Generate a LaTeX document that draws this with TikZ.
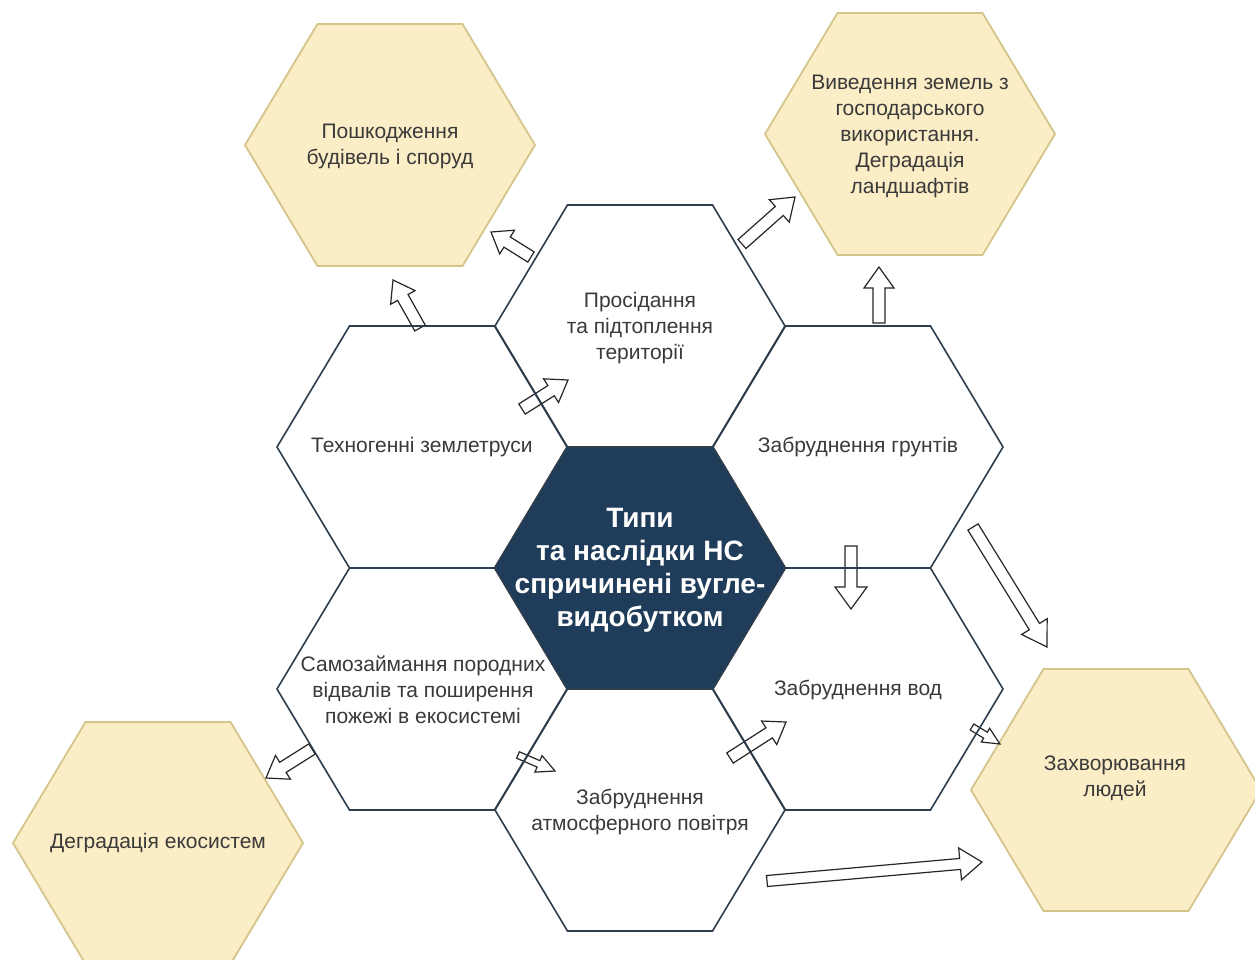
\documentclass[tikz,border=0pt]{standalone}
\usepackage{fontspec}
\setmainfont{Liberation Sans}
\usetikzlibrary{calc}
\definecolor{navy}{HTML}{1F3D5A}
\definecolor{hexline}{HTML}{2E3D4C}
\definecolor{yfill}{HTML}{FBEDC6}
\definecolor{ybord}{HTML}{D5C58A}
\definecolor{txtgray}{HTML}{3A3A3A}
\newcommand\hexpath[3][]{%
  \path[#1] ({#2-145},{#3}) -- ({#2-72.5},{#3-121}) -- ({#2+72.5},{#3-121}) -- ({#2+145},{#3}) -- ({#2+72.5},{#3+121}) -- ({#2-72.5},{#3+121}) -- cycle;}
\newcommand\blockarr[5]{%
  \coordinate (bk) at ($(#2)!#5*0.5pt!(#1)$);
  \draw[barrow] ($(#1)!#3*0.5pt!90:(#2)$) -- ($(bk)!#3*0.5pt!90:(#2)$) -- ($(bk)!#4*0.5pt!90:(#2)$) -- (#2) -- ($(bk)!#4*0.5pt!-90:(#2)$) -- ($(bk)!#3*0.5pt!-90:(#2)$) -- ($(#1)!#3*0.5pt!-90:(#2)$) -- cycle;}
\begin{document}
\begin{tikzpicture}[x=0.5pt,y=-0.5pt,
  hexy/.style={draw=ybord, fill=yfill, line width=0.9pt},
  hexfill/.style={fill=white},
  hexedge/.style={draw=hexline, line width=0.8pt, line join=miter},
  hexc/.style={draw=navy, fill=navy, line width=0.8pt},
  lbl/.style={align=center, text=txtgray, font=\fontsize{10.5}{13}\selectfont},
  clbl/.style={align=center, text=white, font=\bfseries\fontsize{14}{16.5}\selectfont},
  barrow/.style={draw=black!85, fill=white, line width=0.6pt, line join=miter}]
\useasboundingbox (0,0) rectangle (1255,960);
\clip (0,0) rectangle (1255,960);
\fill[white] (0,0) rectangle (1255,960);
% outer yellow hexagons
\hexpath[hexy]{390}{145}
\hexpath[hexy]{910}{134}
\hexpath[hexy]{158}{843}
\hexpath[hexy]{1116}{790}
% honeycomb fills
\foreach \x/\y in {640/326, 640/810, 422/447, 422/689, 858/447, 858/689} {\hexpath[hexfill]{\x}{\y}}
\hexpath[hexc]{640}{568}
% arrow end points
\coordinate (a1t) at (531,257);  \coordinate (a1h) at (491,232);
\coordinate (a2t) at (420,328);  \coordinate (a2h) at (393,280);
\coordinate (a3t) at (522,409);  \coordinate (a3h) at (568,380);
\coordinate (a4t) at (742,244);  \coordinate (a4h) at (795,197);
\coordinate (a5t) at (879,323);  \coordinate (a5h) at (879,267);
\coordinate (a6t) at (851,546);  \coordinate (a6h) at (851,609);
\coordinate (a7t) at (973,527);  \coordinate (a7h) at (1047,647);
\coordinate (a8t) at (972,727);  \coordinate (a8h) at (1000,744);
\coordinate (a9t) at (767,881);  \coordinate (a9h) at (982,862);
\coordinate (a10t) at (730,758); \coordinate (a10h) at (786,722);
\coordinate (a11t) at (518,755); \coordinate (a11h) at (555,771);
\coordinate (a12t) at (312,749); \coordinate (a12h) at (266,778);
\blockarr{a1t}{a1h}{6}{14}{19}
\blockarr{a2t}{a2h}{6}{14}{20}
\blockarr{a3t}{a3h}{6}{14}{20}
\blockarr{a4t}{a4h}{6}{15}{21}
\blockarr{a5t}{a5h}{6}{15}{21}
\blockarr{a6t}{a6h}{6}{16}{22}
\blockarr{a7t}{a7h}{6}{15}{24}
\blockarr{a8t}{a8h}{3.5}{8}{17}
\blockarr{a9t}{a9h}{5.5}{16}{22}
\blockarr{a10t}{a10h}{6}{14}{20}
\blockarr{a11t}{a11h}{3.5}{9}{18}
\blockarr{a12t}{a12h}{6}{14}{20}
% honeycomb outlines on top
\foreach \x/\y in {640/326, 640/810, 422/447, 422/689, 858/447, 858/689} {\hexpath[hexedge]{\x}{\y}}
% labels
\node[lbl] (posh) at (390,146) {Пошкодження\\будівель і споруд};
\node[lbl] (vyv) at (910,136) {Виведення земель з\\господарського\\використання.\\Деградація\\ландшафтів};
\node[lbl] (pros) at (640,328) {Просідання\\та підтоплення\\території};
\node[lbl] (tekh) at (422,447) {Техногенні землетруси};
\node[lbl] (grunt) at (858,447) {Забруднення грунтів};
\node[lbl] (samo) at (423,690) {Самозаймання породних\\відвалів та поширення\\пожежі в екосистемі};
\node[lbl] (vod) at (858,690) {Забруднення вод};
\node[lbl] (povitr) at (640,812) {Забруднення\\атмосферного повітря};
\node[lbl] (degr) at (158,843) {Деградація екосистем};
\node[lbl] (zakh) at (1115,778) {Захворювання\\людей};
\node[clbl] (main) at (640,570) {Типи\\та наслідки НС\\спричинені вугле-\\видобутком};
\end{tikzpicture}
\end{document}
